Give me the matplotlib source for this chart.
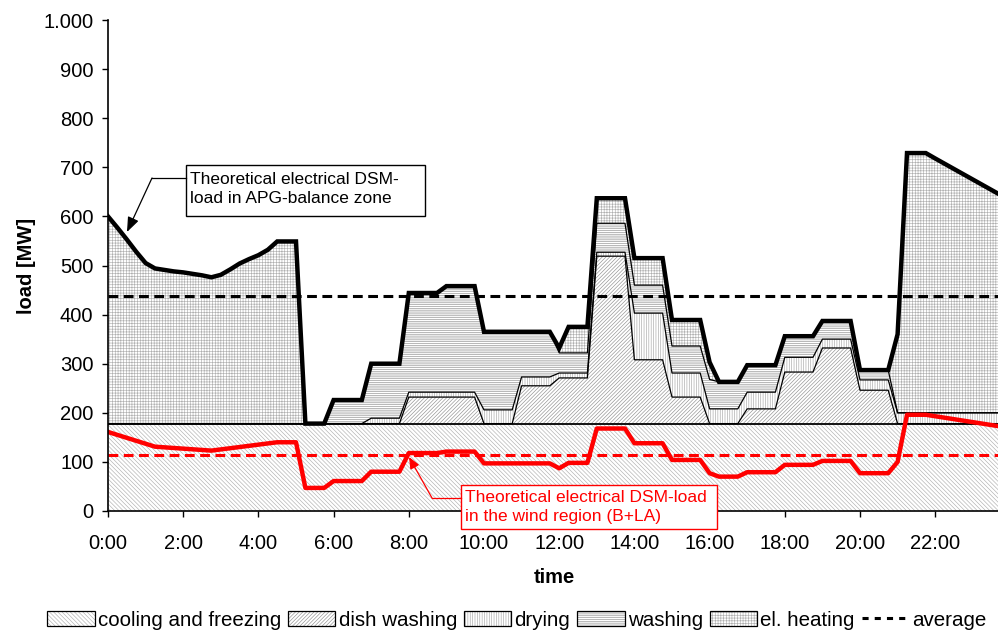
import matplotlib
matplotlib.use('Agg')
import matplotlib.pyplot as plt
import numpy as np
from matplotlib.patches import Patch, Rectangle
from matplotlib.lines import Line2D

plt.rcParams['font.family'] = ['Liberation Sans', 'DejaVu Sans']
plt.rcParams['hatch.linewidth'] = 0.45

# ---------------- data (hours, MW) ----------------
times = [0, 0.25, 0.5, 0.75, 1, 1.25, 1.5, 1.75, 2, 2.25, 2.5, 2.75, 3, 3.25, 3.5, 3.75,
         4, 4.25, 4.5, 4.75, 5, 5.25, 5.75, 6, 6.75, 7, 7.75, 8, 8.75, 9, 9.75, 10, 10.75,
         11, 11.75, 12, 12.25, 12.75, 13, 13.75, 14, 14.75, 15, 15.75, 16, 16.25, 16.75,
         17, 17.75, 18, 18.75, 19, 19.75, 20, 20.75, 21, 21.25, 21.75, 22, 23.75]

cooling = [178, 178, 178, 178, 178, 178, 178, 178, 178, 178, 178, 178, 178, 178, 178, 178,
           178, 178, 178, 178, 178, 178, 178, 178, 178, 178, 178, 178, 178, 178, 178, 178, 178,
           178, 178, 178, 178, 178, 178, 178, 178, 178, 178, 178, 178, 178, 178,
           178, 178, 178, 178, 178, 178, 178, 178, 178, 178, 178, 178, 178]

dish = [0, 0, 0, 0, 0, 0, 0, 0, 0, 0, 0, 0, 0, 0, 0, 0,
        0, 0, 0, 0, 0, 0, 0, 0, 0, 0, 0, 54, 54, 54, 54, 0, 0,
        77, 77, 93, 93, 93, 341, 341, 130, 130, 54, 54, 0, 0, 0,
        30, 30, 105, 105, 154, 154, 68, 68, 0, 0, 0, 0, 0]

drying = [0, 0, 0, 0, 0, 0, 0, 0, 0, 0, 0, 0, 0, 0, 0, 0,
          0, 0, 0, 0, 0, 0, 0, 0, 0, 11, 11, 10, 10, 10, 10, 28, 28,
          18, 18, 10, 10, 10, 8, 8, 95, 95, 49, 49, 30, 30, 30,
          34, 34, 30, 30, 18, 18, 21, 21, 22, 22, 22, 22, 22]

washing = [0, 0, 0, 0, 0, 0, 0, 0, 0, 0, 0, 0, 0, 0, 0, 0,
           0, 0, 0, 0, 0, 0, 0, 48, 48, 111, 111, 202, 202, 216, 216, 159, 159,
           92, 92, 41, 41, 41, 59, 59, 57, 57, 55, 55, 60, 55, 55,
           55, 55, 43, 43, 37, 37, 20, 20, 0, 0, 0, 0, 0]

heating = [422, 399, 375, 350, 327, 316, 313, 310, 308, 305, 302, 298, 303, 314, 326, 335,
           343, 354, 371, 371, 371, 0, 0, 0, 0, 0, 0, 0, 0, 0, 0, 0, 0,
           0, 0, 10, 53, 53, 51, 51, 55, 55, 53, 53, 35, 0, 0,
           0, 0, 0, 0, 0, 0, 0, 0, 160, 529, 529, 518, 443]

wind_times = [0, 1.25, 2.75, 4.5, 5, 5.25, 5.75, 6, 6.75, 7, 7.75, 8, 8.75, 9, 9.75, 10,
              11.75, 12, 12.25, 12.75, 13, 13.75, 14, 14.75, 15, 15.75, 16, 16.25, 16.75,
              17, 17.75, 18, 18.75, 19, 19.75, 20, 20.75, 21, 21.25, 21.75, 23.75]
wind_load = [161, 131, 123, 140, 140, 47, 47, 61, 61, 80, 80, 118, 118, 121, 121, 97,
             97, 87, 98, 98, 168, 168, 138, 138, 104, 104, 77, 70, 70,
             79, 79, 94, 94, 102, 102, 77, 77, 100, 196, 196, 172]

avg_total = 438
avg_wind = 115

series_names = ['cooling and freezing', 'dish washing', 'drying', 'washing', 'el. heating']
hatches = ['\\' * 8, '/' * 9, '|' * 7, '-' * 9, '+' * 6]
hatch_colors = ['#b0b0b0', '#909090', '#a8a8a8', '#909090', '#b0b0b0']

xtick_pos = [0, 2, 4, 6, 8, 10, 12, 14, 16, 18, 20, 22]
xtick_labels = ['0:00', '2:00', '4:00', '6:00', '8:00', '10:00', '12:00', '14:00',
                '16:00', '18:00', '20:00', '22:00']
ytick_pos = [0, 100, 200, 300, 400, 500, 600, 700, 800, 900, 1000]
ytick_labels = ['0', '100', '200', '300', '400', '500', '600', '700', '800', '900', '1.000']

# ---------------- figure ----------------
W, H = 998, 635
fig = plt.figure(figsize=(W / 100, H / 100), dpi=100)
ax = fig.add_axes([108 / W, (H - 511) / H, (1001 - 108) / W, 491 / H])

t = np.array(times, dtype=float)
layers = [np.array(s, dtype=float) for s in (cooling, dish, drying, washing, heating)]
base = np.zeros_like(t)
for vals, hat, hc in zip(layers, hatches, hatch_colors):
    top = base + vals
    ax.fill_between(t, base, top, facecolor='white', edgecolor=hc, hatch=hat,
                    linewidth=0, zorder=1)
    base = top

# layer borders
cum = np.zeros_like(t)
for i, vals in enumerate(layers[:-1]):
    cum = cum + vals
    ax.plot(t, cum, color='black', lw=1.3 if i == 0 else 0.9, zorder=2)

total = cum + layers[-1]

ax.axhline(avg_total, color='black', lw=2.2, ls=(0, (3.2, 1.8)), zorder=3)
ax.axhline(avg_wind, color='#ff0000', lw=2.2, ls=(0, (3.2, 1.8)), zorder=3)
ax.plot(t, total, color='black', lw=3.2, zorder=5, solid_joinstyle='miter')
ax.plot(wind_times, wind_load, color='#ff0000', lw=3.2, zorder=5)

ax.set_xlim(0, 23.75)
ax.set_ylim(0, 1000)
ax.set_xticks(xtick_pos)
ax.set_xticklabels(xtick_labels)
ax.set_yticks(ytick_pos)
ax.set_yticklabels(ytick_labels)
ax.tick_params(axis='both', labelsize=14.5, direction='out', length=4.5, width=1,
               colors='black')
ax.tick_params(axis='x', pad=12)
ax.tick_params(axis='y', pad=6)
for s in ('top', 'right'):
    ax.spines[s].set_visible(False)
for s in ('left', 'bottom'):
    ax.spines[s].set_linewidth(1.2)
    ax.spines[s].set_zorder(6)

ax.set_xlabel('time', fontsize=14.5, fontweight='bold', labelpad=11)
ax.set_ylabel('load [MW]', fontsize=14.5, fontweight='bold', labelpad=5)


def hx(px):
    return (px - 108) / (1001 - 108) * 23.75


def my(py):
    return (511 - py) / 491 * 1000


# black annotation
ax.add_patch(Rectangle((hx(186), my(216)), hx(425) - hx(186), my(165) - my(216),
                       facecolor='white', edgecolor='black', lw=1.0, zorder=7))
ax.text(hx(190), my(189), 'Theoretical electrical DSM-\nload in APG-balance zone',
        fontsize=12.5, va='center', ha='left', zorder=8, linespacing=1.3)
ax.plot([hx(186), hx(152)], [my(178), my(178)], color='black', lw=0.9, zorder=7)
ax.annotate('', xy=(hx(127), my(232)), xytext=(hx(152), my(178)),
            arrowprops=dict(arrowstyle='-|>,head_length=0.9,head_width=0.35',
                            color='black', lw=0.9, shrinkA=0, shrinkB=0), zorder=7)

# red annotation
ax.add_patch(Rectangle((hx(461), my(529)), hx(717) - hx(461), my(485) - my(529),
                       facecolor='white', edgecolor='#ff0000', lw=1.0, zorder=7,
                       clip_on=False))
ax.text(hx(465), my(507), 'Theoretical electrical DSM-load\nin the wind region (B+LA)',
        fontsize=12.5, va='center', ha='left', color='#ff0000', zorder=8,
        linespacing=1.3, clip_on=False)
ax.plot([hx(461), hx(432)], [my(498), my(498)], color='#ff0000', lw=0.9, zorder=7,
        clip_on=False)
ax.annotate('', xy=(hx(409), my(457)), xytext=(hx(432), my(498)),
            arrowprops=dict(arrowstyle='-|>,head_length=0.7,head_width=0.3',
                            color='#ff0000', lw=0.9, shrinkA=0, shrinkB=0), zorder=7)

# legend
handles = []
for hat, hc in zip(hatches, hatch_colors):
    handles.append((Patch(facecolor='white', edgecolor=hc, hatch=hat, lw=0),
                    Patch(facecolor='none', edgecolor='black', lw=0.9)))
handles.append(Line2D([], [], color='black', lw=2.2, ls=(0, (2, 2))))
labels = series_names + ['average']
fig.legend(handles, labels, loc='center', bbox_to_anchor=(517 / W, 1 - 620 / H),
           ncol=6, frameon=False, fontsize=14.8, handlelength=2.3, handleheight=0.7,
           handletextpad=0.15, columnspacing=0.35, borderpad=0, borderaxespad=0)

fig.savefig('out.png', dpi=100)
